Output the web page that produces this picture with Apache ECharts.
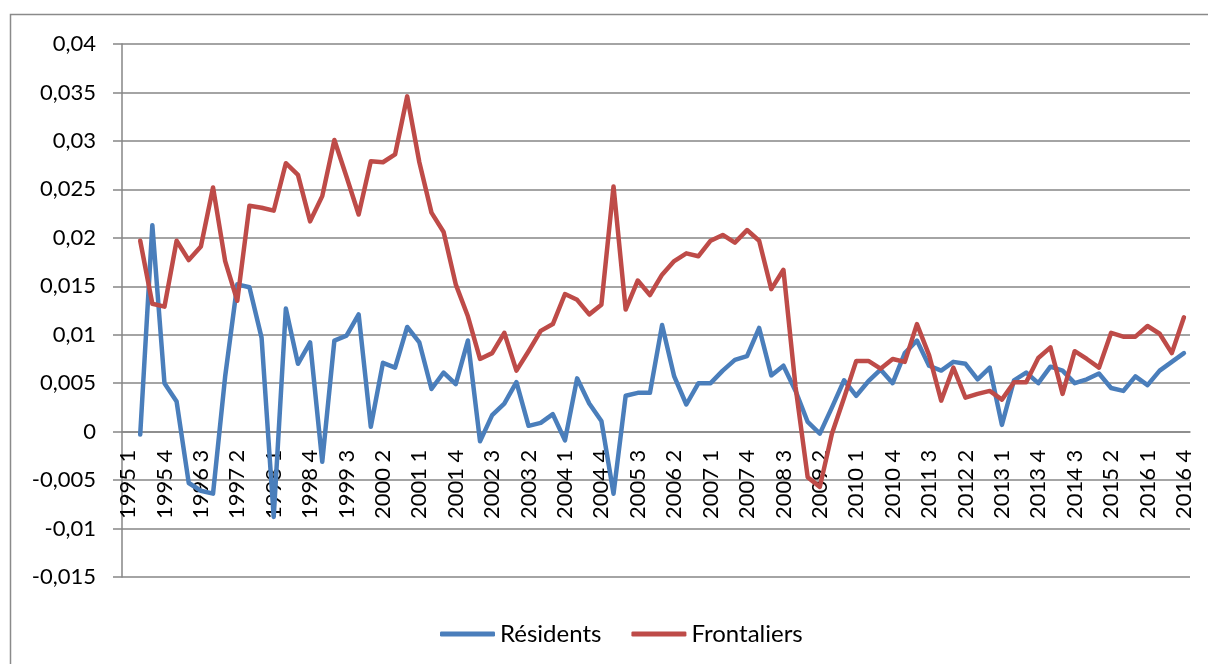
<!DOCTYPE html>
<html>
<head>
<meta charset="utf-8">
<script src="https://cdn.jsdelivr.net/npm/echarts@6/dist/echarts.min.js"></script>
<style>
  html, body { margin: 0; padding: 0; background: #fff; }
  #main { width: 1208px; height: 664px; }
</style>
</head>
<body>
<div id="main"></div>
<script>
const years = [1995, 1996, 1997, 1998, 1999, 2000, 2001, 2002, 2003, 2004, 2005,
  2006, 2007, 2008, 2009, 2010, 2011, 2012, 2013, 2014, 2015, 2016];
const quarters = [1, 2, 3, 4];

const residents = [
  null, -0.0003, 0.0213, 0.0050, 0.0031, -0.0053, -0.0061, -0.0064,
  0.0057, 0.0152, 0.0149, 0.0097, -0.0088, 0.0127, 0.0070, 0.0092,
  -0.0031, 0.0094, 0.0099, 0.0121, 0.0005, 0.0071, 0.0066, 0.0108,
  0.0092, 0.0044, 0.0061, 0.0049, 0.0094, -0.0010, 0.0017, 0.0029,
  0.0051, 0.0006, 0.0009, 0.0018, -0.0009, 0.0055, 0.0029, 0.0011,
  -0.0064, 0.0037, 0.0040, 0.0040, 0.0110, 0.0057, 0.0028, 0.0050,
  0.0050, 0.0063, 0.0074, 0.0078, 0.0107, 0.0058, 0.0068, 0.0042,
  0.0010, -0.0002, 0.0025, 0.0053, 0.0037, 0.0052, 0.0064, 0.0050,
  0.0081, 0.0094, 0.0068, 0.0063, 0.0072, 0.0070, 0.0054, 0.0066,
  0.0007, 0.0053, 0.0061, 0.0050, 0.0067, 0.0063, 0.0050, 0.0054,
  0.0060, 0.0045, 0.0042, 0.0057, 0.0048, 0.0063, 0.0072, 0.0081
];

const frontaliers = [
  null, 0.0197, 0.0132, 0.0129, 0.0197, 0.0177, 0.0191, 0.0252,
  0.0176, 0.0135, 0.0233, 0.0231, 0.0228, 0.0277, 0.0265, 0.0217,
  0.0243, 0.0301, 0.0263, 0.0224, 0.0279, 0.0278, 0.0286, 0.0346,
  0.0278, 0.0226, 0.0206, 0.0152, 0.0119, 0.0075, 0.0081, 0.0102,
  0.0063, 0.0083, 0.0104, 0.0111, 0.0142, 0.0136, 0.0121, 0.0131,
  0.0253, 0.0126, 0.0156, 0.0141, 0.0162, 0.0176, 0.0184, 0.0181,
  0.0197, 0.0203, 0.0195, 0.0208, 0.0197, 0.0147, 0.0167, 0.0046,
  -0.0047, -0.0057, -0.0002, 0.0035, 0.0073, 0.0073, 0.0065, 0.0075,
  0.0072, 0.0111, 0.0079, 0.0032, 0.0066, 0.0035, 0.0039, 0.0042,
  0.0033, 0.0051, 0.0051, 0.0076, 0.0087, 0.0039, 0.0083, 0.0075,
  0.0066, 0.0102, 0.0098, 0.0098, 0.0109, 0.0101, 0.0081, 0.0118
];

const yMin = -0.015;
const yMax = 0.04;

const categories = [];
years.forEach(y => {
  quarters.forEach(q => {
    categories.push(y + ' ' + q);
  });
});

const font = 'Lato, "Open Sans", sans-serif';
const gray = '#868686';

const gridTop = 44;
const gridBottom = 87;
const gridHeight = 664 - gridTop - gridBottom;
// move the category axis up to the zero line
const zeroOffset = -gridHeight * (0 - yMin) / (yMax - yMin);

const myChart = echarts.init(document.getElementById('main'), null, { renderer: 'canvas' });

myChart.setOption({
  backgroundColor: '#fff',
  animation: false,
  color: ['#4a7ebb', '#be4b48'],
  textStyle: { fontFamily: font },
  graphic: [{
    type: 'rect',
    shape: { x: 10.5, y: 14.5, width: 1300, height: 800 },
    style: { fill: 'none', stroke: '#8a8a8a', lineWidth: 1.5 },
    silent: true
  }],
  legend: {
    data: ['Résidents', 'Frontaliers'],
    left: 435,
    top: 617,
    icon: 'roundRect',
    itemWidth: 55,
    itemHeight: 5,
    itemGap: 30,
    textStyle: { fontSize: 24, color: '#000', fontFamily: font }
  },
  grid: {
    left: 122,
    right: 18,
    top: gridTop,
    bottom: gridBottom,
    containLabel: false
  },
  xAxis: {
    type: 'category',
    data: categories,
    boundaryGap: true,
    position: 'bottom',
    offset: zeroOffset,
    axisLine: { onZero: false, lineStyle: { color: gray, width: 1.5 } },
    axisTick: { interval: 0, length: 6, lineStyle: { color: gray, width: 1.5 } },
    axisLabel: {
      interval: 2,
      rotate: 90,
      margin: 18,
      fontSize: 22,
      color: '#000',
      fontFamily: font
    },
    splitLine: { show: false }
  },
  yAxis: {
    type: 'value',
    min: yMin,
    max: yMax,
    interval: 0.005,
    axisLine: { show: true, lineStyle: { color: gray, width: 1.5 } },
    axisTick: { show: true, length: 9, lineStyle: { color: gray, width: 1.5 } },
    axisLabel: {
      margin: 26,
      fontSize: 22,
      color: '#000',
      fontFamily: font,
      formatter: v => String(+v.toFixed(3)).replace('.', ',')
    },
    splitLine: { lineStyle: { color: gray, width: 1.5 } }
  },
  series: [
    {
      name: 'Résidents',
      type: 'line',
      data: residents,
      symbol: 'none',
      lineStyle: { width: 4.5, cap: 'round', join: 'round' }
    },
    {
      name: 'Frontaliers',
      type: 'line',
      data: frontaliers,
      symbol: 'none',
      lineStyle: { width: 4.5, cap: 'round', join: 'round' }
    }
  ]
});
</script>
</body>
</html>
